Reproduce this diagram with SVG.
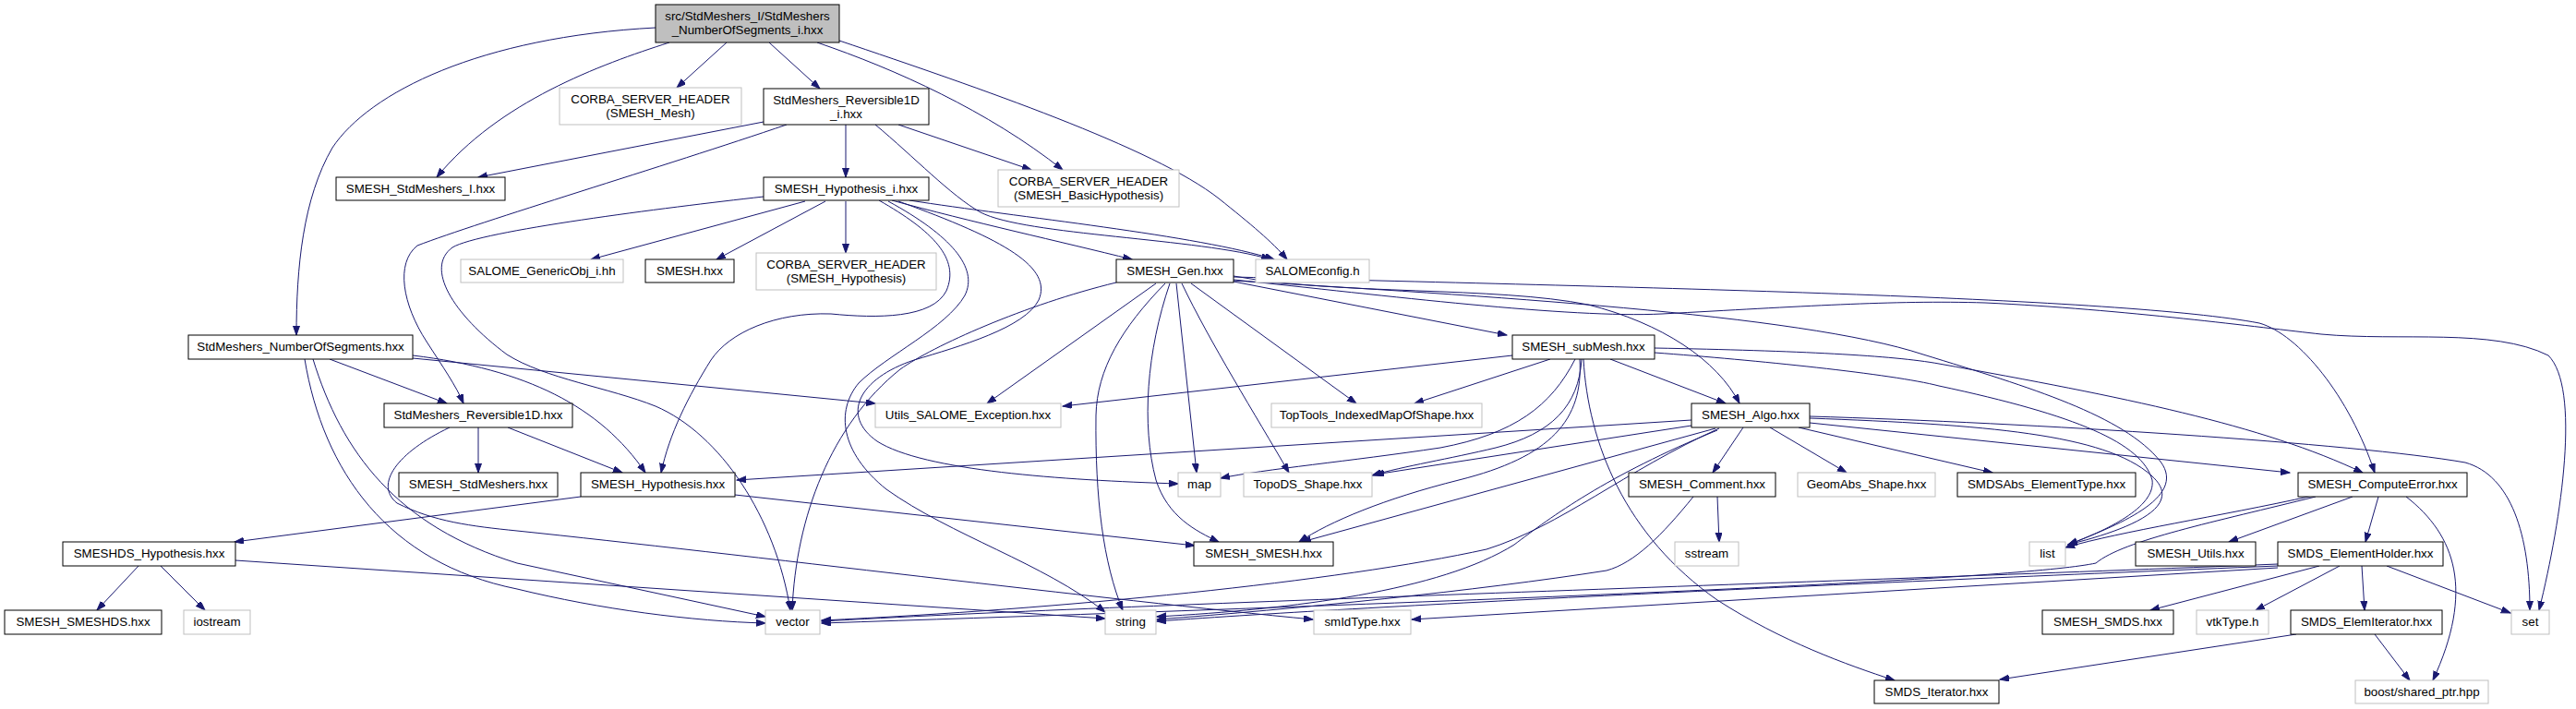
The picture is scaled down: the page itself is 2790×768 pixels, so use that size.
<svg xmlns="http://www.w3.org/2000/svg" width="2790" height="768" viewBox="0 0 2790 768">
<style>
.n rect{fill:#fff;stroke:#000;stroke-width:1}
.g rect{fill:#fff;stroke:#bfbfbf;stroke-width:1}
.r rect{fill:#bfbfbf;stroke:#000;stroke-width:1}
text{font-family:"Liberation Sans",Arial,sans-serif;font-size:13.33px;text-anchor:middle;fill:#000}
#edges path{fill:none;stroke:#191970;stroke-width:1;marker-end:url(#a)}
</style>
<defs>
<marker id="a" markerUnits="userSpaceOnUse" markerWidth="11" markerHeight="8" refX="10" refY="3.5" orient="auto">
<path d="M0,0 L10,3.5 L0,7 Z" fill="#191970" stroke="#191970"/>
</marker>
</defs>
<rect width="2790" height="768" fill="#fff"/>
<g id="edges">
<path d="M725,46 C650,70 540,110 473,192"/>
<path d="M710,30 C520,40 400,100 360,160 C328,215 321,290 321,363"/>
<path d="M787,46 L733,95"/>
<path d="M833,46 L888,96"/>
<path d="M885,46 C970,75 1070,120 1151,184"/>
<path d="M909,44 C1060,95 1250,160 1320,215 C1355,243 1378,262 1394,281"/>
<path d="M827,132 L518,192"/>
<path d="M916,135 L916,192"/>
<path d="M973,135 L1117,184"/>
<path d="M948,135 C990,170 1030,212 1062,230 C1110,255 1300,258 1376,281"/>
<path d="M852,135 C720,180 520,240 452,266 C428,285 436,330 462,370 C480,398 494,418 502,437"/>
<path d="M357,389 L484,437"/>
<path d="M447,388 L948,437"/>
<path d="M447,385 C570,400 650,440 699,512"/>
<path d="M339,389 C370,490 430,570 560,610 L829,668"/>
<path d="M330,389 C350,510 420,610 560,638 C650,660 750,673 829,675"/>
<path d="M487,463 C430,490 405,525 430,545 C470,565 510,570 560,575 C800,600 1200,650 1422,671"/>
<path d="M518,463 L518,512"/>
<path d="M550,463 L674,512"/>
<path d="M629,538 L254,587"/>
<path d="M796,536 L1294,591"/>
<path d="M150,613 L105,661"/>
<path d="M174,613 L222,661"/>
<path d="M255,607 L1197,670"/>
<path d="M827,213 C720,225 520,250 490,268 C460,290 490,340 549,384 C590,410 660,420 710,440 C780,470 840,560 856,661"/>
<path d="M952,217 C1010,250 1040,280 1025,315 C1010,345 950,345 900,340 C840,338 790,360 770,390 C745,430 725,470 716,512"/>
<path d="M962,218 C1030,255 1060,290 1045,320 C1025,355 960,385 930,415 C905,445 910,490 960,530 C1030,580 1130,610 1197,663"/>
<path d="M973,218 C1090,260 1140,290 1125,325 C1110,355 1040,375 990,390 C930,410 910,450 950,478 C1000,510 1150,520 1276,524"/>
<path d="M872,218 L640,281"/>
<path d="M894,218 L776,281"/>
<path d="M916,218 L916,274"/>
<path d="M966,217 C1050,240 1150,262 1226,281"/>
<path d="M985,217 C1100,235 1300,255 1380,281"/>
<path d="M1209,306 C1110,330 1010,375 975,400 C900,460 862,560 858,661"/>
<path d="M1252,307 L1069,437"/>
<path d="M1262,307 C1215,355 1188,400 1187,450 C1186,540 1195,610 1216,661"/>
<path d="M1267,307 C1242,380 1236,460 1252,520 C1265,560 1295,575 1320,587"/>
<path d="M1274,307 L1296,512"/>
<path d="M1280,307 C1310,370 1360,450 1396,512"/>
<path d="M1290,307 L1469,437"/>
<path d="M1336,305 L1632,363"/>
<path d="M1336,299 C1450,320 1620,310 1720,330 C1800,350 1860,390 1884,437"/>
<path d="M1336,300 C1800,312 2300,322 2447,350 C2490,362 2545,430 2572,512"/>
<path d="M1336,303 C1500,320 1700,345 1800,340 C1950,332 2050,325 2150,328 C2300,335 2450,355 2514,362 C2600,370 2700,355 2760,385 C2795,420 2775,560 2750,661"/>
<path d="M1336,304 C1600,320 1950,340 2083,384 C2200,420 2300,450 2340,500 C2370,540 2290,570 2240,590"/>
<path d="M1638,385 L1151,440"/>
<path d="M1679,389 L1532,437"/>
<path d="M1706,389 C1680,440 1640,470 1560,485 C1460,500 1370,508 1322,518"/>
<path d="M1713,389 C1710,440 1680,470 1620,485 C1570,497 1520,505 1486,515"/>
<path d="M1711,389 C1715,455 1680,495 1580,520 C1500,540 1440,565 1407,587"/>
<path d="M1744,389 L1869,437"/>
<path d="M1715,389 C1720,480 1760,580 1860,650 C1930,695 2000,720 2052,737"/>
<path d="M1792,377 C1950,380 2050,385 2100,394 C2300,430 2450,460 2559,512"/>
<path d="M1792,382 C1900,390 2050,405 2100,418 C2250,450 2320,480 2331,520 C2335,550 2280,575 2240,590"/>
<path d="M1888,463 L1855,512"/>
<path d="M1917,463 L2000,512"/>
<path d="M1948,463 L2158,512"/>
<path d="M1960,458 L2480,512"/>
<path d="M1960,453 C2150,460 2280,470 2330,515 C2370,550 2300,575 2240,590"/>
<path d="M1960,451 C2200,458 2550,480 2670,501 C2720,515 2740,580 2740,661"/>
<path d="M1832,455 L798,520"/>
<path d="M1832,461 L1489,514"/>
<path d="M1858,464 L1410,587"/>
<path d="M1862,464 C1760,510 1690,570 1610,595 C1450,630 1150,660 890,672"/>
<path d="M1860,466 C1740,515 1680,560 1640,590 C1560,640 1400,660 1253,668"/>
<path d="M1860,538 L1862,587"/>
<path d="M1834,538 C1800,580 1770,610 1740,618 C1600,640 1400,660 1253,671"/>
<path d="M2505,537 C2400,560 2300,575 2237,593"/>
<path d="M2548,538 L2414,587"/>
<path d="M2576,538 L2562,587"/>
<path d="M2606,538 C2660,580 2680,640 2635,737"/>
<path d="M2508,538 C2400,565 2300,585 2270,610 C2200,625 1800,645 890,675"/>
<path d="M2512,613 L2329,661"/>
<path d="M2534,613 L2443,661"/>
<path d="M2558,613 L2561,661"/>
<path d="M2585,613 L2719,664"/>
<path d="M2467,611 C2000,630 1200,655 890,673"/>
<path d="M2467,613 C2000,632 1500,655 1253,673"/>
<path d="M2467,615 L1529,671"/>
<path d="M2487,687 L2166,736"/>
<path d="M2572,687 L2610,737"/>
</g>
<g id="n_root" class="r"><rect x="710" y="5" width="199" height="41"/><text x="809.5" y="22">src/StdMeshers_I/StdMeshers</text><text x="809.5" y="37">_NumberOfSegments_i.hxx</text></g>
<g id="n_corba_mesh" class="g"><rect x="606" y="95" width="197" height="40"/><text x="704.5" y="112">CORBA_SERVER_HEADER</text><text x="704.5" y="127">(SMESH_Mesh)</text></g>
<g id="n_rev1d_i" class="n"><rect x="827" y="96" width="179" height="39"/><text x="916.5" y="113">StdMeshers_Reversible1D</text><text x="916.5" y="128">_i.hxx</text></g>
<g id="n_smesh_stdmeshers_i" class="n"><rect x="364" y="192" width="183" height="25"/><text x="455.5" y="209">SMESH_StdMeshers_I.hxx</text></g>
<g id="n_hyp_i" class="n"><rect x="827" y="192" width="179" height="25"/><text x="916.5" y="209">SMESH_Hypothesis_i.hxx</text></g>
<g id="n_corba_basic" class="g"><rect x="1081" y="184" width="196" height="40"/><text x="1179" y="201">CORBA_SERVER_HEADER</text><text x="1179" y="216">(SMESH_BasicHypothesis)</text></g>
<g id="n_genericobj" class="g"><rect x="499" y="281" width="176" height="25"/><text x="587" y="298">SALOME_GenericObj_i.hh</text></g>
<g id="n_smesh" class="n"><rect x="699" y="281" width="96" height="25"/><text x="747" y="298">SMESH.hxx</text></g>
<g id="n_corba_hyp" class="g"><rect x="819" y="274" width="195" height="40"/><text x="916.5" y="291">CORBA_SERVER_HEADER</text><text x="916.5" y="306">(SMESH_Hypothesis)</text></g>
<g id="n_gen" class="n"><rect x="1209" y="281" width="127" height="25"/><text x="1272.5" y="298">SMESH_Gen.hxx</text></g>
<g id="n_salomeconfig" class="g"><rect x="1360" y="281" width="123" height="25"/><text x="1421.5" y="298">SALOMEconfig.h</text></g>
<g id="n_nos" class="n"><rect x="204" y="363" width="243" height="26"/><text x="325.5" y="380">StdMeshers_NumberOfSegments.hxx</text></g>
<g id="n_submesh" class="n"><rect x="1638" y="363" width="154" height="26"/><text x="1715" y="380">SMESH_subMesh.hxx</text></g>
<g id="n_utils_exc" class="g"><rect x="948" y="437" width="201" height="26"/><text x="1048.5" y="454">Utils_SALOME_Exception.hxx</text></g>
<g id="n_toptools" class="g"><rect x="1377" y="437" width="228" height="26"/><text x="1491" y="454">TopTools_IndexedMapOfShape.hxx</text></g>
<g id="n_algo" class="n"><rect x="1832" y="437" width="128" height="26"/><text x="1896" y="454">SMESH_Algo.hxx</text></g>
<g id="n_rev1d" class="n"><rect x="416" y="437" width="204" height="26"/><text x="518" y="454">StdMeshers_Reversible1D.hxx</text></g>
<g id="n_smesh_stdmeshers" class="n"><rect x="432" y="512" width="172" height="26"/><text x="518" y="529">SMESH_StdMeshers.hxx</text></g>
<g id="n_hyp" class="n"><rect x="629" y="512" width="167" height="26"/><text x="712.5" y="529">SMESH_Hypothesis.hxx</text></g>
<g id="n_map" class="g"><rect x="1276" y="512" width="46" height="26"/><text x="1299" y="529">map</text></g>
<g id="n_topods" class="g"><rect x="1347" y="512" width="139" height="26"/><text x="1416.5" y="529">TopoDS_Shape.hxx</text></g>
<g id="n_comment" class="n"><rect x="1764" y="512" width="159" height="26"/><text x="1843.5" y="529">SMESH_Comment.hxx</text></g>
<g id="n_geomabs" class="g"><rect x="1947" y="512" width="149" height="26"/><text x="2021.5" y="529">GeomAbs_Shape.hxx</text></g>
<g id="n_smdsabs" class="n"><rect x="2120" y="512" width="193" height="26"/><text x="2216.5" y="529">SMDSAbs_ElementType.hxx</text></g>
<g id="n_computeerror" class="n"><rect x="2489" y="512" width="183" height="26"/><text x="2580.5" y="529">SMESH_ComputeError.hxx</text></g>
<g id="n_smeshds_hyp" class="n"><rect x="68" y="587" width="187" height="26"/><text x="161.5" y="604">SMESHDS_Hypothesis.hxx</text></g>
<g id="n_smesh_smesh" class="n"><rect x="1293" y="587" width="151" height="26"/><text x="1368.5" y="604">SMESH_SMESH.hxx</text></g>
<g id="n_sstream" class="g"><rect x="1814" y="587" width="69" height="26"/><text x="1848.5" y="604">sstream</text></g>
<g id="n_list" class="g"><rect x="2198" y="587" width="39" height="26"/><text x="2217.5" y="604">list</text></g>
<g id="n_smesh_utils" class="n"><rect x="2313" y="587" width="130" height="26"/><text x="2378" y="604">SMESH_Utils.hxx</text></g>
<g id="n_elemholder" class="n"><rect x="2467" y="587" width="179" height="26"/><text x="2556.5" y="604">SMDS_ElementHolder.hxx</text></g>
<g id="n_smesh_smeshds" class="n"><rect x="5" y="661" width="170" height="26"/><text x="90" y="678">SMESH_SMESHDS.hxx</text></g>
<g id="n_iostream" class="g"><rect x="199" y="661" width="72" height="26"/><text x="235" y="678">iostream</text></g>
<g id="n_vector" class="g"><rect x="829" y="661" width="59" height="26"/><text x="858.5" y="678">vector</text></g>
<g id="n_string" class="g"><rect x="1197" y="661" width="55" height="26"/><text x="1224.5" y="678">string</text></g>
<g id="n_smidtype" class="g"><rect x="1423" y="661" width="105" height="26"/><text x="1475.5" y="678">smIdType.hxx</text></g>
<g id="n_smesh_smds" class="n"><rect x="2212" y="661" width="142" height="26"/><text x="2283" y="678">SMESH_SMDS.hxx</text></g>
<g id="n_vtktype" class="g"><rect x="2379" y="661" width="78" height="26"/><text x="2418" y="678">vtkType.h</text></g>
<g id="n_elemiter" class="n"><rect x="2481" y="661" width="164" height="26"/><text x="2563" y="678">SMDS_ElemIterator.hxx</text></g>
<g id="n_set" class="g"><rect x="2720" y="661" width="41" height="26"/><text x="2740.5" y="678">set</text></g>
<g id="n_smds_iter" class="n"><rect x="2030" y="737" width="135" height="25"/><text x="2097.5" y="754">SMDS_Iterator.hxx</text></g>
<g id="n_boost" class="g"><rect x="2551" y="737" width="144" height="25"/><text x="2623" y="754">boost/shared_ptr.hpp</text></g>
</svg>
